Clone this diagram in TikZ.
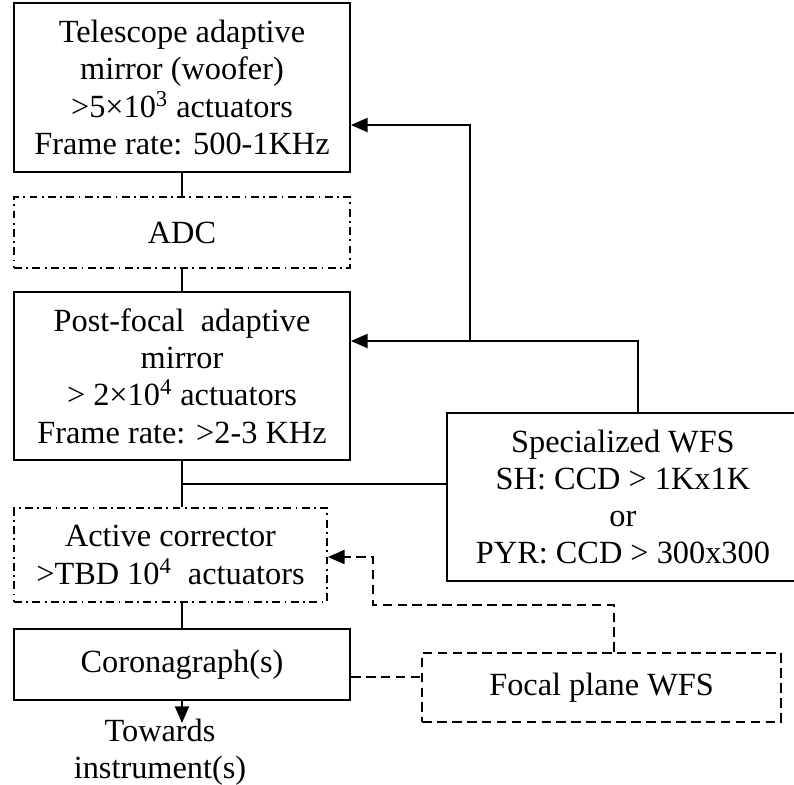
\documentclass[tikz,border=0pt]{standalone}
\usepackage{fontspec}
\setmainfont{Liberation Serif}
\usetikzlibrary{arrows.meta}

\begin{document}
\begin{tikzpicture}[x=0.02cm, y=-0.02cm,
  every node/.style={font=\fontsize{18.4}{21.2}\selectfont, align=center, inner sep=0pt},
  solidbox/.style={draw, line width=1.1pt, minimum width=6.72cm},
  dashdotbox/.style={draw, line width=1.1pt, dash pattern=on 4.5pt off 2.5pt on 1pt off 2.5pt},
  dashbox/.style={draw, line width=1.1pt, dash pattern=on 5.5pt off 3pt},
  link/.style={line width=1.1pt},
  feed/.style={line width=1.1pt, -{Triangle[length=9.5pt, width=8pt]}},
  dashlink/.style={line width=1.1pt, dash pattern=on 5.5pt off 3pt}]
  \useasboundingbox (0,0) rectangle (794,784);

  % Mirrors and correctors
  \node[solidbox, minimum height=3.38cm] (tel) at (182,87.5) {Telescope adaptive\\mirror (woofer)\\>5×10\textsuperscript{3} actuators\\Frame rate: 500-1KHz};
  \node[dashdotbox, minimum width=6.72cm, minimum height=1.42cm] (adc) at (182,232.5) {ADC};
  \node[solidbox, minimum height=3.36cm] (post) at (182,376) {Post-focal\ \ adaptive\\mirror\\> 2×10\textsuperscript{4} actuators\\Frame rate: >2-3 KHz};
  \node[dashdotbox, minimum width=6.26cm, minimum height=1.88cm] (actcor) at (170.5,555) {Active corrector\\>TBD 10\textsuperscript{4}\ \ actuators};
  \node[solidbox, minimum height=1.42cm] (coro) at (182,664.5) {Coronagraph(s)};
  \node (out) at (160,752) {Towards\\instrument(s)};

  % Wavefront sensors
  \node[solidbox, anchor=west, minimum width=7.04cm, minimum height=3.36cm] (wfs) at (446,497) {Specialized WFS\\SH: CCD > 1Kx1K\\or\\PYR: CCD > 300x300};
  \node[dashbox, minimum width=7.18cm, minimum height=1.38cm] (fpwfs) at (601.5,687.5) {Focal plane WFS};

  % Bends
  \coordinate (jn) at (182,484);
  \coordinate (tap) at (638,341);
  \coordinate (riser) at (470,125);
  \coordinate (fpup) at (614,605);
  \coordinate (dleft) at (373,557);
  \coordinate (cfl) at (350,677);
  \coordinate (outtip) at (182,723);

  % Optical train
  \draw[link] (tel) -- (adc);
  \draw[link] (adc) -- (post);
  \draw[link] (post.south) -- (post.south |- actcor.north);
  \draw[link] (jn) -- (jn -| wfs.west);
  \draw[link] (coro.north |- actcor.south) -- (coro.north);
  \draw[feed] (coro.south) -- (outtip);

  % Feedback loops
  \draw[feed] (tap |- wfs.north) -- (tap) -- (post.east |- tap);
  \draw[feed] (riser |- tap) -- (riser) -- (tel.east |- riser);
  \draw[dashlink, -{Triangle[length=9.5pt, width=8pt]}] (fpup |- fpwfs.north) -- (fpup) -- (dleft |- fpup) -- (dleft) -- (actcor.east |- dleft);
  \draw[dashlink] (coro.east |- cfl) -- (fpwfs.west |- cfl);
\end{tikzpicture}
\end{document}
